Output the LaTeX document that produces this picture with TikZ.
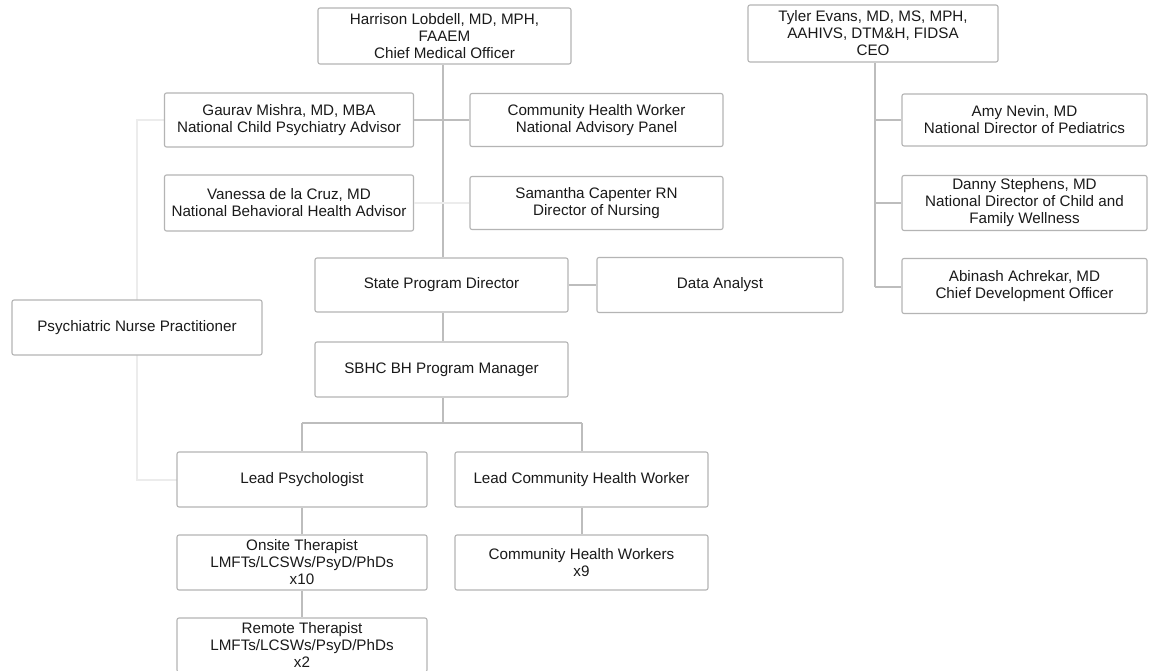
\documentclass[tikz,border=0pt]{standalone}
\usepackage{fontspec}
\setmainfont{Liberation Sans}
\definecolor{boxline}{HTML}{B4B4B4}
\definecolor{conn}{HTML}{BDBDBD}
\definecolor{faint}{HTML}{ECECEC}
\definecolor{txt}{HTML}{1A1A1A}
\tikzset{
  orgbox/.style={draw=boxline, line width=1.1pt, rounded corners=2pt, fill=white,
    text=txt, align=center, inner sep=1pt,
    font=\fontsize{15.2}{17}\selectfont},
  conline/.style={draw=conn, line width=1.4pt},
  faintline/.style={draw=faint, line width=1.4pt}
}
\begin{document}
\begin{tikzpicture}[x=1pt,y=-1pt]
\useasboundingbox (0,0) rectangle (1152,671);
\fill[white] (0,0) rectangle (1152,671);

% coordinates for free connector bends
\coordinate (leftTop) at (137,120);
\coordinate (leftBot) at (137,480);
\coordinate (split) at (443,423);
\coordinate (splitL) at (302,423);
\coordinate (splitR) at (582,423);

% faint left connector (behind boxes)
\draw[faintline] (165,120) -- (leftTop) -- (leftBot) -- (177,480);

% nodes
\node[orgbox, minimum width=253pt, minimum height=56pt] (harrison) at (444.5,36)
  {Harrison Lobdell, MD, MPH,\\FAAEM\\Chief Medical Officer};
\node[orgbox, minimum width=250pt, minimum height=57pt] (tyler) at (873,33.5)
  {Tyler Evans, MD, MS, MPH,\\AAHIVS, DTM\&H, FIDSA\\CEO};
\node[orgbox, minimum width=249pt, minimum height=54pt] (gaurav) at (289,120)
  {Gaurav Mishra, MD, MBA\\National Child Psychiatry Advisor};
\node[orgbox, minimum width=249pt, minimum height=56pt] (vanessa) at (289,203)
  {Vanessa de la Cruz, MD\\National Behavioral Health Advisor};
\node[orgbox, minimum width=253pt, minimum height=53pt] (panel) at (596.5,120)
  {Community Health Worker\\National Advisory Panel};
\node[orgbox, minimum width=253pt, minimum height=53pt] (samantha) at (596.5,203)
  {Samantha Capenter RN\\Director of Nursing};
\node[orgbox, minimum width=245pt, minimum height=52pt] (amy) at (1024.5,120)
  {Amy Nevin, MD\\National Director of Pediatrics};
\node[orgbox, minimum width=245pt, minimum height=55pt] (danny) at (1024.5,203)
  {Danny Stephens, MD\\National Director of Child and\\Family Wellness};
\node[orgbox, minimum width=245pt, minimum height=55pt] (abinash) at (1024.5,286)
  {Abinash Achrekar, MD\\Chief Development Officer};
\node[orgbox, minimum width=253pt, minimum height=54pt] (spd) at (441.5,285)
  {State Program Director};
\node[orgbox, minimum width=246pt, minimum height=55pt] (data) at (720,285)
  {Data Analyst};
\node[orgbox, minimum width=250pt, minimum height=55pt] (psynp) at (137,327.5)
  {Psychiatric Nurse Practitioner};
\node[orgbox, minimum width=253pt, minimum height=55pt] (sbhc) at (441.5,369.5)
  {SBHC BH Program Manager};
\node[orgbox, minimum width=250pt, minimum height=55pt] (leadpsy) at (302,479.5)
  {Lead Psychologist};
\node[orgbox, minimum width=253pt, minimum height=55pt] (leadchw) at (581.5,479.5)
  {Lead Community Health Worker};
\node[orgbox, minimum width=250pt, minimum height=55pt] (onsite) at (302,562.5)
  {Onsite Therapist\\LMFTs/LCSWs/PsyD/PhDs\\x10};
\node[orgbox, minimum width=253pt, minimum height=55pt] (chws) at (581.5,562.5)
  {Community Health Workers\\x9};
\node[orgbox, minimum width=250pt, minimum height=54pt] (remote) at (302,645)
  {Remote Therapist\\LMFTs/LCSWs/PsyD/PhDs\\x2};

% connectors
\coordinate (hTrunk) at (443,0);
\draw[conline] (harrison.south -| hTrunk) -- (spd.north -| hTrunk);
\draw[conline] (gaurav.east) -- (panel.west);
\draw[faintline] (vanessa.east) -- (samantha.west);

\coordinate (tTrunk) at (875,0);
\coordinate (tEnd) at (875,287);
\draw[conline] (tyler.south -| tTrunk) -- (tEnd);
\draw[conline] (amy.west -| tTrunk) -- (amy.west);
\draw[conline] (danny.west -| tTrunk) -- (danny.west);
\draw[conline] (tEnd) -- (abinash.west |- tEnd);

\draw[conline] (spd.east) -- (data.west);
\draw[conline] (spd.south -| hTrunk) -- (sbhc.north -| hTrunk);
\draw[conline] (sbhc.south -| hTrunk) -- (split);
\draw[conline] (splitL) -- (splitR);
\draw[conline] (splitL) -- (leadpsy.north -| splitL);
\draw[conline] (splitR) -- (leadchw.north -| splitR);
\draw[conline] (leadpsy.south) -- (onsite.north);
\draw[conline] (onsite.south) -- (remote.north);
\draw[conline] (leadchw.south -| splitR) -- (chws.north -| splitR);
\end{tikzpicture}
\end{document}
